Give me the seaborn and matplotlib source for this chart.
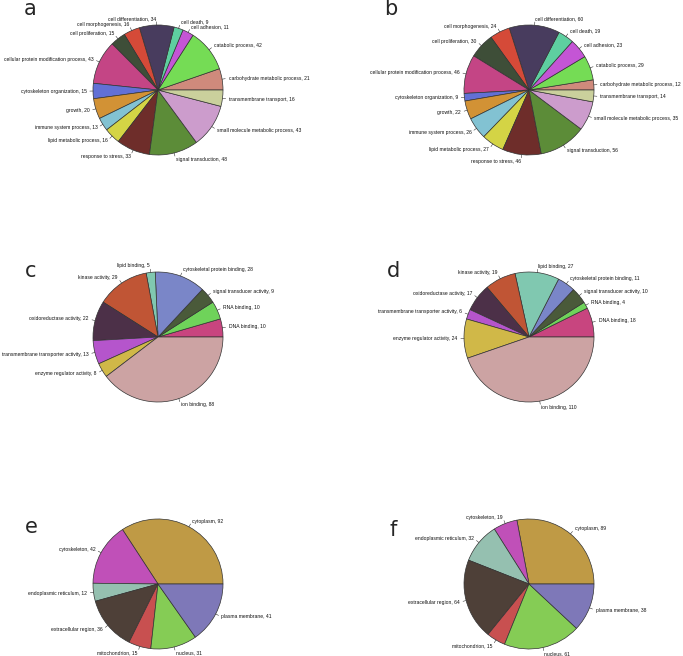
import matplotlib.pyplot as plt
import seaborn as sns
import numpy as np

# DATA

bp_labels = ["carbohydrate metabolic process", "catabolic process", "cell adhesion", "cell death",
             "cell differentiation", "cell morphogenesis", "cell proliferation",
             "cellular protein modification process", "cytoskeleton organization", "growth",
             "immune system process", "lipid metabolic process", "response to stress",
             "signal transduction", "small molecule metabolic process", "transmembrane transport"]
bp_a = [21, 42, 11, 9, 34, 16, 15, 43, 15, 20, 13, 16, 33, 48, 43, 16]
bp_b = [12, 29, 23, 19, 60, 24, 30, 46, 9, 22, 26, 27, 46, 56, 35, 14]
bp_colors = ["#cf8a7c", "#75dc55", "#c455d5", "#5ecfa0", "#483c5e", "#d54a38", "#3e4e38",
             "#c44585", "#6270d5", "#d29235", "#82c2d2", "#d4d445", "#6e2d2a", "#5c8c38",
             "#cc9ccc", "#cad09c"]

mf_labels = ["DNA binding", "RNA binding", "signal transducer activity", "cytoskeletal protein binding",
             "lipid binding", "kinase activity", "oxidoreductase activity",
             "transmembrane transporter activity", "enzyme regulator activity", "ion binding"]
mf_c = [10, 10, 9, 28, 5, 29, 22, 13, 8, 88]
mf_d = [18, 4, 10, 11, 27, 19, 17, 6, 24, 110]
mf_colors = ["#c8457f", "#6fd35a", "#4a5a3a", "#7a86c8", "#80c8b0", "#c05535", "#4c3048",
             "#b555cc", "#d0b848", "#cca3a3"]

cc_labels = ["cytoplasm", "cytoskeleton", "endoplasmic reticulum", "extracellular region",
             "mitochondrion", "nucleus", "plasma membrane"]
cc_e = [92, 42, 12, 36, 15, 31, 41]
cc_f = [89, 19, 32, 64, 15, 61, 38]
cc_colors = ["#bf9a45", "#c050b8", "#95c0b0", "#4e4038", "#c85050", "#85cc55", "#7e78b8"]

# LAYOUT (pixel centres of each pie, from the top-left)

W, H = 683, 656
R = 65
panels = [
    ("a", bp_labels, bp_a, bp_colors, (158, 90), (24, 15)),
    ("b", bp_labels, bp_b, bp_colors, (529, 90), (384, 15)),
    ("c", mf_labels, mf_c, mf_colors, (158, 337), (25, 277)),
    ("d", mf_labels, mf_d, mf_colors, (529, 337), (387, 277)),
    ("e", cc_labels, cc_e, cc_colors, (158, 584), (25, 533)),
    ("f", cc_labels, cc_f, cc_colors, (529, 584), (390, 536)),
]

sns.set_theme(style="white")
plt.rcParams['font.family'] = ['Liberation Sans', 'DejaVu Sans']

fig = plt.figure(figsize=(W / 100, H / 100), dpi=100)

half = 4 * R
for letter, labels, values, colors, (cx, cy), (lx, ly) in panels:
    ax = fig.add_axes([(cx - half) / W, (H - cy - half) / H, 2 * half / W, 2 * half / H])
    wedges, _ = ax.pie(values, colors=colors, startangle=0, counterclock=True, radius=1,
                       wedgeprops=dict(edgecolor="#333333", linewidth=0.5))
    total = float(sum(values))
    start = 0.0
    for lab, v in zip(labels, values):
        mid = np.deg2rad((start + v / 2.0) / total * 360.0)
        start += v
        x, y = np.cos(mid), np.sin(mid)
        ax.plot([x, 1.05 * x], [y, 1.05 * y], color="#333333", lw=0.4)
        ax.text(1.1 * x, 1.1 * y, lab + ", " + str(v), fontsize=3.6,
                ha="left" if x >= 0 else "right", va="center", color="#111111")
    ax.set_xlim(-4, 4)
    ax.set_ylim(-4, 4)
    ax.set_aspect("equal")
    ax.axis("off")
    fig.text(lx / W, 1 - ly / H, letter, fontsize=15, family="DejaVu Sans", va="baseline", ha="left")

plt.savefig("out.png", dpi=100)
